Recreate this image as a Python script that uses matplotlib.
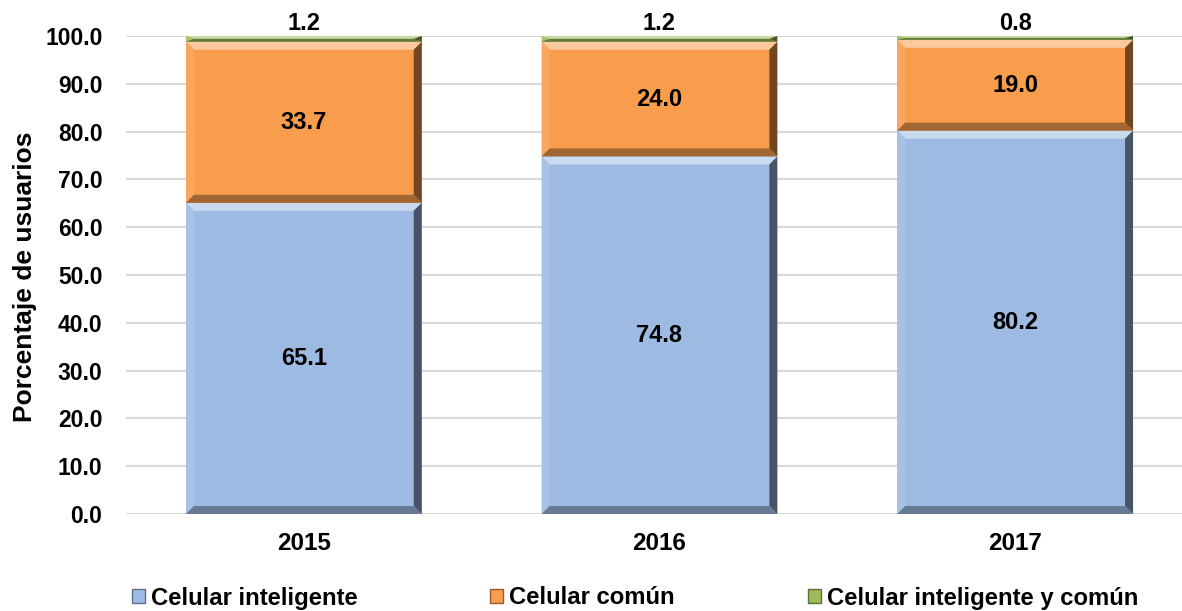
import matplotlib
matplotlib.use("Agg")
from matplotlib import pyplot as plt
from matplotlib.patches import Polygon, Patch
import matplotlib.colors as mcolors
import numpy as np

# datos
years = ['2015', '2016', '2017']
inteligente = [65.1, 74.8, 80.2]
comun = [33.7, 24.0, 19.0]
ambos = [1.2, 1.2, 0.8]
series_names = ['Celular inteligente', 'Celular común', 'Celular inteligente y común']
colors = ['#9dbbe2', '#f89d4c', '#9bbb59']

plt.rcParams['font.family'] = ['Liberation Sans', 'DejaVu Sans']
plt.rcParams['font.weight'] = 'bold'

W, H = 1182, 611
fig = plt.figure(figsize=(W / 100, H / 100), dpi=100)
ax_l, ax_b, ax_t = 126, 514, 36
ax = fig.add_axes([ax_l / W, (H - ax_b) / H, (W - ax_l) / W, (ax_b - ax_t) / H])

x = np.arange(len(years))
xmax = 2.5 - (1193 - W) / 356.0
ax.set_xlim(-0.5, xmax)
ax.set_ylim(0, 100)

def mix(c, other, t):
    c = np.array(mcolors.to_rgb(c))
    o = np.array(mcolors.to_rgb(other))
    return tuple(c * (1 - t) + o * t)

# bisel (como Excel)
px_x = (xmax + 0.5) / (W - ax_l)
px_y = 100.0 / (ax_b - ax_t)
bev = 8

def bevel_bar(x0, y0, w, h, c):
    ax.bar(x0 + w / 2, h, w, bottom=y0, color=c, zorder=2, linewidth=0)
    dx = bev * px_x
    dy = min(bev * px_y, h / 2)
    x1, y1 = x0 + w, y0 + h
    ix0, ix1, iy0, iy1 = x0 + dx, x1 - dx, y0 + dy, y1 - dy
    faces = [
        ([(x0, y1), (x1, y1), (ix1, iy1), (ix0, iy1)], mix(c, 'white', 0.45)),
        ([(x0, y0), (x0, y1), (ix0, iy1), (ix0, iy0)], mix(c, 'white', 0.1)),
        ([(x1, y0), (x1, y1), (ix1, iy1), (ix1, iy0)], mix(c, 'black', 0.55)),
        ([(x0, y0), (x1, y0), (ix1, iy0), (ix0, iy0)], mix(c, 'black', 0.35)),
    ]
    for pts, fc in faces:
        ax.add_patch(Polygon(pts, closed=True, facecolor=fc, edgecolor='none', zorder=3))

width = 236 / 356.0
bottoms = np.zeros(len(years))
for vals, c in zip([inteligente, comun, ambos], colors):
    for i, v in enumerate(vals):
        bevel_bar(x[i] - width / 2, bottoms[i], width, v, c)
    bottoms = bottoms + np.array(vals)

# etiquetas de valores
fs_val = 17
for i in range(len(years)):
    ax.text(x[i], inteligente[i] / 2, f'{inteligente[i]:.1f}', ha='center', va='center',
            fontsize=fs_val, fontweight='bold', zorder=5)
    ax.text(x[i], inteligente[i] + comun[i] / 2, f'{comun[i]:.1f}', ha='center', va='center',
            fontsize=fs_val, fontweight='bold', zorder=5)
    ax.text(x[i], 102.6, f'{ambos[i]:.1f}', ha='center', va='center',
            fontsize=fs_val, fontweight='bold', zorder=5, clip_on=False)

ax.set_yticks(np.arange(0, 101, 10))
ax.set_yticklabels([f'{v:.1f}' for v in np.arange(0, 101, 10)])
ax.set_xticks(x)
ax.set_xticklabels(years)
ax.tick_params(axis='y', length=0, pad=17, labelsize=16.5)
ax.tick_params(axis='x', length=0, pad=13, labelsize=17.5)
ax.grid(axis='y', color='#d9d9d9', linewidth=1.5, zorder=0)
ax.set_axisbelow(True)
for s in ax.spines.values():
    s.set_visible(False)

ax.set_ylabel('Porcentaje de usuarios', fontsize=19, fontweight='bold')
ax.yaxis.set_label_coords((37 - ax_l) / (W - ax_l), 0.497)

handles = [Patch(facecolor=c, edgecolor=mix(c, 'black', 0.4)) for c in colors]
fig.legend(handles, series_names, loc='center', bbox_to_anchor=(635 / W, 1 - 598 / H),
           ncol=3, frameon=False, fontsize=17.2, handlelength=0.55, handleheight=0.55,
           handletextpad=0.25, columnspacing=5.55, borderaxespad=0)

fig.savefig('out.png', dpi=100)
